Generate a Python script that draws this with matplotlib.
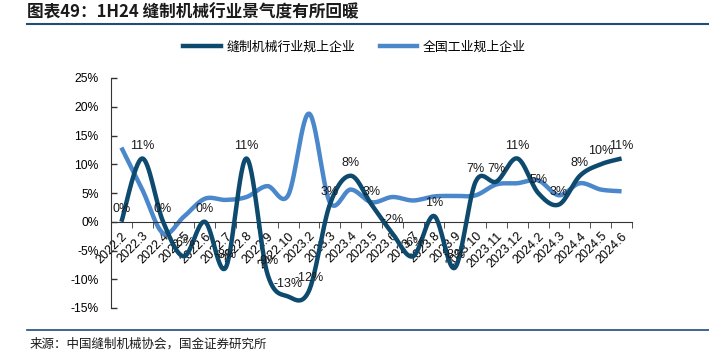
import numpy as np
import matplotlib
matplotlib.use("Agg")
import matplotlib.pyplot as plt
from matplotlib.lines import Line2D

plt.rcParams['font.family'] = ['Liberation Sans', 'Noto Sans CJK SC', 'DejaVu Sans']

categories = ["2022.2", "2022.3", "2022.4", "2022.5", "2022.6", "2022.7", "2022.8",
              "2022.9", "2022.10", "2023.2", "2023.3", "2023.4", "2023.5", "2023.6",
              "2023.7", "2023.8", "2023.9", "2023.10", "2023.11", "2023.12", "2024.2",
              "2024.3", "2024.4", "2024.5", "2024.6"]
sewing = [0, 11, 0, -6, 0, -8, 11, -9, -13, -12, 3, 8, 3, -2, -6, 1, -8, 7, 7, 11, 5, 3, 8, 10, 11]
national = [12.9, 5.6, -2.0, 0.9, 4.0, 3.8, 4.3, 6.2, 4.6, 18.8, 3.4, 5.6, 3.4, 4.3, 3.7, 4.4,
            4.5, 4.6, 6.5, 6.7, 7.2, 4.6, 6.7, 5.6, 5.3]
series_names = ["缝制机械行业规上企业", "全国工业规上企业"]
yticks = [-15, -10, -5, 0, 5, 10, 15, 20, 25]

DARK = "#0D4A6E"
LIGHT = "#4A88CB"


def smooth(xs, ys, n=30):
    xs = np.asarray(xs, float)
    ys = np.asarray(ys, float)
    px = np.concatenate([[xs[0]], xs, [xs[-1]]])
    py = np.concatenate([[ys[0]], ys, [ys[-1]]])
    outx, outy = [], []
    t = np.linspace(0, 1, n)
    for i in range(1, len(px) - 2):
        p0 = np.array([px[i], py[i]])
        p3 = np.array([px[i + 1], py[i + 1]])
        p1 = p0 + (np.array([px[i + 1], py[i + 1]]) - np.array([px[i - 1], py[i - 1]])) / 6
        p2 = p3 - (np.array([px[i + 2], py[i + 2]]) - np.array([px[i], py[i]])) / 6
        b = ((1 - t) ** 3)[:, None] * p0 + (3 * (1 - t) ** 2 * t)[:, None] * p1 + \
            (3 * (1 - t) * t ** 2)[:, None] * p2 + (t ** 3)[:, None] * p3
        outx.extend(b[:, 0])
        outy.extend(b[:, 1])
    return np.array(outx), np.array(outy)


fig = plt.figure(figsize=(7.09, 3.54), dpi=100)
ax = fig.add_axes([111 / 709, 1 - 308 / 354, (632 - 111) / 709, (308 - 78) / 354])

x = np.arange(len(categories))
sx, sy = smooth(x, national)
ax.plot(sx, sy, color=LIGHT, lw=3.2, solid_capstyle='butt', zorder=2)
sx, sy = smooth(x, sewing)
ax.plot(sx, sy, color=DARK, lw=3.2, solid_capstyle='butt', zorder=3)

for i, v in enumerate(sewing):
    ax.annotate(f"{v}%", (i, v), xytext=(0, 5), textcoords='offset points',
                ha='center', va='bottom', fontsize=9, color='#1a1a1a', zorder=4)

ax.set_xlim(-0.5, len(categories) - 0.5)
ax.set_ylim(-15, 25)
ax.set_yticks(yticks)
ax.set_yticklabels([f"{t}%" for t in yticks], fontsize=8.7)
ax.tick_params(axis='y', direction='in', length=4, width=1, pad=9, color='#333333')

ax.spines['top'].set_visible(False)
ax.spines['right'].set_visible(False)
ax.spines['left'].set_color('#333333')
ax.spines['bottom'].set_position(('data', 0))
ax.spines['bottom'].set_color('#333333')

ax.set_xticks(x)
ax.set_xticklabels(categories, rotation=45, ha='right', va='top', rotation_mode='anchor', fontsize=9)
ax.set_xticks(np.arange(len(categories) + 1) - 0.5, minor=True)
ax.tick_params(axis='x', which='major', length=0, pad=6)
ax.tick_params(axis='x', which='minor', length=4, direction='out', color='#333333')

handles = [Line2D([], [], color=DARK, lw=3.2), Line2D([], [], color=LIGHT, lw=3.2)]
fig.legend(handles, series_names, loc='center', bbox_to_anchor=(0.5, 1 - 47 / 354), ncol=2,
           frameon=False, handlelength=2.9, columnspacing=1.9, handletextpad=0.45,
           prop={'family': ['Noto Sans CJK SC'], 'size': 9.3})

fig.text(27 / 709, 1 - 12 / 354, "图表49：1H24 缝制机械行业景气度有所回暖", fontsize=12,
         fontweight='bold', style='italic', family=['Noto Sans CJK SC', 'DejaVu Sans'],
         va='center', ha='left', color='#1a1a1a')
fig.add_artist(Line2D([27 / 709, 1], [1 - 24 / 354] * 2, color='#1F4E79', lw=1.5))
fig.add_artist(Line2D([27 / 709, 1], [1 - 330 / 354] * 2, color='#1F4E79', lw=1.2))
fig.text(30 / 709, 1 - 344 / 354, "来源：中国缝制机械协会，国金证券研究所", fontsize=9,
         family=['Noto Sans CJK SC'], va='center', ha='left', color='#1a1a1a')

fig.savefig("out.png", dpi=100)
